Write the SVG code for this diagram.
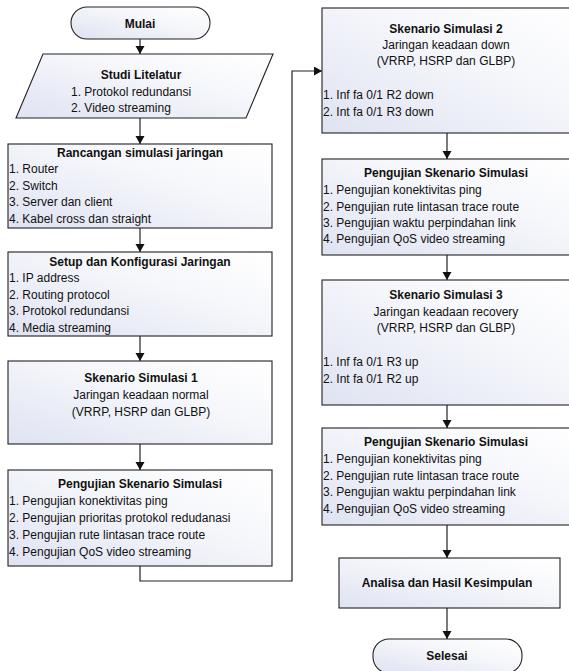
<svg xmlns="http://www.w3.org/2000/svg" width="569" height="671" viewBox="0 0 569 671">
<defs>
<linearGradient id="g" x1="0" y1="1" x2="1" y2="0">
<stop offset="0" stop-color="#dfe3f2"/>
<stop offset="0.6" stop-color="#f6f7fb"/>
<stop offset="1" stop-color="#ffffff"/>
</linearGradient>
<marker id="ah" markerUnits="userSpaceOnUse" markerWidth="9" markerHeight="10" refX="8" refY="4.5" orient="auto">
<path d="M0,0 L8,4.5 L0,9 Z" fill="#111"/>
</marker>
</defs>
<style>
.n{fill:url(#g);stroke:#222;stroke-width:1.1}
.c{fill:none;stroke:#222;stroke-width:1.2}
text{font-family:"Liberation Sans",Arial,sans-serif;font-size:12px;fill:#111}
.b{font-weight:bold}
.m{text-anchor:middle}
</style>
<rect width="569" height="671" fill="#fff"/>
<g id="connectors">
<line class="c" x1="140" y1="39" x2="140" y2="54" marker-end="url(#ah)"/>
<line class="c" x1="140" y1="118" x2="140" y2="144" marker-end="url(#ah)"/>
<line class="c" x1="140" y1="228" x2="140" y2="252" marker-end="url(#ah)"/>
<line class="c" x1="140" y1="336" x2="140" y2="361" marker-end="url(#ah)"/>
<line class="c" x1="140" y1="444" x2="140" y2="470" marker-end="url(#ah)"/>
<polyline class="c" points="140,566 140,581 292,581 292,71 322,71" marker-end="url(#ah)"/>
<line class="c" x1="447" y1="133" x2="447" y2="159" marker-end="url(#ah)"/>
<line class="c" x1="447" y1="255" x2="447" y2="280" marker-end="url(#ah)"/>
<line class="c" x1="447" y1="405" x2="447" y2="428" marker-end="url(#ah)"/>
<line class="c" x1="447" y1="525" x2="447" y2="558" marker-end="url(#ah)"/>
<line class="c" x1="447" y1="608" x2="447" y2="639" marker-end="url(#ah)"/>
</g>
<g id="mulai">
<rect class="n" x="71" y="7" width="139" height="32" rx="16"/>
<text class="b m" x="140" y="28">Mulai</text>
</g>
<g id="studi">
<polygon class="n" points="43,54 273,54 246,118 16,118"/>
<text class="b m" x="141" y="79">Studi Litelatur</text>
<text x="71" y="95.5">1. Protokol redundansi</text>
<text x="71" y="112">2. Video streaming</text>
</g>
<g id="rancangan">
<rect class="n" x="8" y="144" width="264" height="84"/>
<text class="b m" x="140" y="157">Rancangan simulasi jaringan</text>
<text x="9" y="173">1. Router</text>
<text x="9" y="189.5">2. Switch</text>
<text x="9" y="206">3. Server dan client</text>
<text x="9" y="222.5">4. Kabel cross dan straight</text>
</g>
<g id="setup">
<rect class="n" x="8" y="252" width="264" height="84"/>
<text class="b m" x="140" y="265.5">Setup dan Konfigurasi Jaringan</text>
<text x="9" y="281.5">1. IP address</text>
<text x="9" y="298.5">2. Routing protocol</text>
<text x="9" y="315">3. Protokol redundansi</text>
<text x="9" y="331.5">4. Media streaming</text>
</g>
<g id="skenario1">
<rect class="n" x="8" y="361" width="264" height="83"/>
<text class="b m" x="141" y="382">Skenario Simulasi 1</text>
<text class="m" x="141" y="399">Jaringan keadaan normal</text>
<text class="m" x="141" y="415.5">(VRRP, HSRP dan GLBP)</text>
</g>
<g id="pengujian1">
<rect class="n" x="8" y="470" width="264" height="96"/>
<text class="b m" x="140" y="488">Pengujian Skenario Simulasi</text>
<text x="9" y="504.5">1. Pengujian konektivitas ping</text>
<text x="9" y="521.5">2. Pengujian prioritas protokol redudanasi</text>
<text x="9" y="538.5">3. Pengujian rute lintasan trace route</text>
<text x="9" y="555.5">4. Pengujian QoS video streaming</text>
</g>
<g id="skenario2">
<rect class="n" x="322" y="8" width="264" height="125"/>
<text class="b m" x="446" y="32.5">Skenario Simulasi 2</text>
<text class="m" x="446" y="48.5">Jaringan keadaan down</text>
<text class="m" x="446" y="65">(VRRP, HSRP dan GLBP)</text>
<text x="323" y="99">1. Inf fa 0/1 R2 down</text>
<text x="323" y="115.5">2. Int fa 0/1 R3 down</text>
</g>
<g id="pengujian2">
<rect class="n" x="322" y="159" width="264" height="96"/>
<text class="b m" x="446" y="176.5">Pengujian Skenario Simulasi</text>
<text x="323" y="194">1. Pengujian konektivitas ping</text>
<text x="323" y="210.5">2. Pengujian rute lintasan trace route</text>
<text x="323" y="226.5">3. Pengujian waktu perpindahan link</text>
<text x="323" y="242.5">4. Pengujian QoS video streaming</text>
</g>
<g id="skenario3">
<rect class="n" x="322" y="280" width="264" height="125"/>
<text class="b m" x="446" y="298.5">Skenario Simulasi 3</text>
<text class="m" x="446" y="315.5">Jaringan keadaan recovery</text>
<text class="m" x="446" y="332">(VRRP, HSRP dan GLBP)</text>
<text x="323" y="366">1. Inf fa 0/1 R3 up</text>
<text x="323" y="382.5">2. Int fa 0/1 R2 up</text>
</g>
<g id="pengujian3">
<rect class="n" x="322" y="428" width="264" height="97"/>
<text class="b m" x="446" y="446">Pengujian Skenario Simulasi</text>
<text x="323" y="463">1. Pengujian konektivitas ping</text>
<text x="323" y="479.5">2. Pengujian rute lintasan trace route</text>
<text x="323" y="496">3. Pengujian waktu perpindahan link</text>
<text x="323" y="512.5">4. Pengujian QoS video streaming</text>
</g>
<g id="analisa">
<rect class="n" x="339" y="558" width="221" height="50"/>
<text class="b m" x="447" y="587">Analisa dan Hasil Kesimpulan</text>
</g>
<g id="selesai">
<rect class="n" x="373" y="639" width="149" height="34" rx="16"/>
<text class="b m" x="447" y="660">Selesai</text>
</g>
</svg>
